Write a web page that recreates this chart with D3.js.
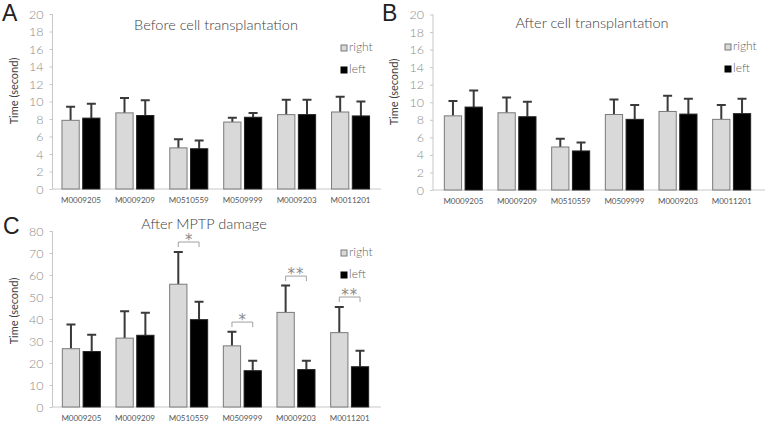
<!DOCTYPE html>
<html><head><meta charset="utf-8">
<script src="https://cdn.jsdelivr.net/npm/d3@7"></script>
<style>
html,body{margin:0;padding:0;background:#fff;}
svg{display:block;}
text{font-family:Lato,"Open Sans",sans-serif;}
</style></head>
<body>
<svg id="chart" width="770" height="423"></svg>
<script>
const categories = ["M0009205","M0009209","M0510559","M0509999","M0009203","M0011201"];
const seriesNames = ["right","left"];

const beforeRight = [7.85, 8.7, 4.7, 7.65, 8.5, 8.8];
const beforeRightErr = [1.55, 1.7, 1.0, 0.5, 1.7, 1.75];
const beforeLeft = [8.1, 8.4, 4.6, 8.2, 8.5, 8.35];
const beforeLeftErr = [1.65, 1.75, 0.95, 0.5, 1.7, 1.65];

const afterRight = [8.45, 8.8, 4.9, 8.6, 8.95, 8.05];
const afterRightErr = [1.7, 1.75, 0.95, 1.7, 1.8, 1.65];
const afterLeft = [9.45, 8.35, 4.45, 8.05, 8.65, 8.7];
const afterLeftErr = [1.9, 1.7, 0.95, 1.65, 1.75, 1.7];

const mptpRight = [26.5, 31.3, 55.8, 27.8, 43, 33.8];
const mptpRightErr = [11, 12.2, 14.7, 6.4, 12.2, 11.7];
const mptpLeft = [25.2, 32.6, 39.7, 16.5, 17, 18.3];
const mptpLeftErr = [7.6, 10.2, 8.1, 4.5, 4, 7.3];

const smallTicks = [0,2,4,6,8,10,12,14,16,18,20];
const largeTicks = [0,10,20,30,40,50,60,70,80];

const sigCategories = ["M0510559","M0509999","M0009203","M0011201"];
const sigLabels = ["*","*","**","**"];
const sigLevels = [75, 38.6, 59.5, 50];

const svg = d3.select("#chart");

function panel(cfg){
  const g = svg.append("g");
  const y = d3.scaleLinear().domain([0, cfg.ymax]).range([cfg.y0, cfg.y1]);
  const x0 = d3.scaleBand().domain(categories).range(cfg.xr).padding(0);
  const bw = x0.bandwidth();
  const x1 = d3.scaleBand().domain(seriesNames).range([bw/2-19.5, bw/2+19.5]).paddingInner(0.12);

  // y axis
  const ya = d3.axisLeft(y).tickValues(cfg.ticks).tickSize(3).tickPadding(6).tickFormat(d3.format("d"));
  const yg = g.append("g").attr("transform", `translate(${cfg.ax},0)`).call(ya);
  yg.select(".domain").attr("stroke","#c8c8c8").attr("d", `M-0,${cfg.y0}V${cfg.y1}`);
  yg.selectAll(".tick line").attr("stroke","#c8c8c8");
  yg.selectAll(".tick text").attr("fill","#8a8a8a").style("font-size","12.5px").style("font-weight","300");

  // x axis
  g.append("line").attr("x1", cfg.ax).attr("x2", cfg.xend).attr("y1", cfg.y0).attr("y2", cfg.y0)
    .attr("stroke","#c8c8c8");
  const xa = d3.axisBottom(x0).tickSize(0).tickPadding(8);
  const xg = g.append("g").attr("transform", `translate(0,${cfg.y0})`).call(xa);
  xg.select(".domain").remove();
  xg.selectAll(".tick text").attr("fill","#555").style("font-size","8px");

  const rows = categories.map((c,i)=>({c, vals:[
    {s:"right", v:cfg.right[i], e:cfg.rightErr[i]},
    {s:"left", v:cfg.left[i], e:cfg.leftErr[i]}]}));

  const grp = g.selectAll(".grp").data(rows).enter().append("g")
    .attr("transform", d=>`translate(${x0(d.c)},0)`);
  // error bars (behind bars)
  grp.selectAll(".err").data(d=>d.vals).enter().append("path")
    .attr("d", d=>{
      const cx = x1(d.s) + x1.bandwidth()/2;
      return `M${cx},${y(d.v)}V${y(d.v+d.e)}M${cx-4.5},${y(d.v+d.e)}H${cx+4.5}`;
    })
    .attr("stroke","#3a3a3a").attr("stroke-width",2).attr("fill","none");
  grp.selectAll(".bar").data(d=>d.vals).enter().append("rect")
    .attr("x", d=>x1(d.s)+0.5).attr("width", x1.bandwidth()-1)
    .attr("y", d=>y(d.v)).attr("height", d=>cfg.y0 - y(d.v))
    .attr("fill", d=>d.s==="right" ? "#d9d9d9" : "#000")
    .attr("stroke", d=>d.s==="right" ? "#7a7a7a" : "#222").attr("stroke-width",1);

  // title
  g.append("text").attr("x", cfg.tx).attr("y", cfg.ty).attr("text-anchor","middle")
    .attr("fill","#404040").style("font-size","14.5px").style("font-weight","300").text(cfg.title);
  // panel letter
  g.append("text").attr("x", cfg.lx).attr("y", cfg.ly).attr("fill","#222")
    .style("font-family","'Liberation Sans',sans-serif")
    .style("font-size","23px").text(cfg.letter);
  // y title
  g.append("text").attr("transform", `translate(${cfg.ytx},${cfg.yty}) rotate(-90)`)
    .attr("text-anchor","middle").attr("fill","#404040").style("font-size","11px")
    .text("Time (second)");
  // legend
  const lg = g.append("g");
  seriesNames.forEach((s,i)=>{
    const yy = cfg.legY + i*22;
    lg.append("rect").attr("x", cfg.legX).attr("y", yy-6).attr("width",6).attr("height",6)
      .attr("fill", s==="right" ? "#d9d9d9" : "#000").attr("stroke", s==="right" ? "#7a7a7a" : "#000");
    lg.append("text").attr("x", cfg.legX+8).attr("y", yy).attr("fill","#666")
      .style("font-size","12px").style("font-weight","300").text(s);
  });

  if (cfg.sig){
    sigCategories.forEach((c,i)=>{
      const xa_ = x0(c) + x1("right") + x1.bandwidth()/2;
      const xb_ = x0(c) + x1("left") + x1.bandwidth()/2;
      const yy = y(sigLevels[i]);
      g.append("path").attr("d", `M${xa_},${yy+5}V${yy}H${xb_}V${yy+5}`)
        .attr("stroke","#a0a0a0").attr("fill","none").attr("stroke-width",1);
      g.append("text").attr("x",(xa_+xb_)/2).attr("y", yy+3).attr("text-anchor","middle")
        .attr("fill","#8a8a8a").style("font-family","'DejaVu Sans',sans-serif").style("font-size","15px")
        .style("letter-spacing", sigLabels[i].length>1?"1px":"0")
        .text(sigLabels[i]);
    });
  }
}

panel({ymax:20, ticks:smallTicks, y0:189, y1:14, ax:52.5, xr:[54,377.5], xend:381,
  right:beforeRight, rightErr:beforeRightErr, left:beforeLeft, leftErr:beforeLeftErr,
  title:"Before cell transplantation", tx:216, ty:30, letter:"A", lx:2, ly:21,
  ytx:18, yty:91, legX:341, legY:51});
panel({ymax:20, ticks:smallTicks, y0:190, y1:14.5, ax:433, xr:[436.5,758.5], xend:765,
  right:afterRight, rightErr:afterRightErr, left:afterLeft, leftErr:afterLeftErr,
  title:"After cell transplantation", tx:592, ty:28, letter:"B", lx:382, ly:21,
  ytx:398, yty:92, legX:725, legY:50});
panel({ymax:80, ticks:largeTicks, y0:407, y1:231, ax:52.5, xr:[54.5,376.5], xend:381,
  right:mptpRight, rightErr:mptpRightErr, left:mptpLeft, leftErr:mptpLeftErr,
  title:"After MPTP damage", tx:204, ty:229, letter:"C", lx:3, ly:234,
  ytx:18, yty:311, legX:341, legY:256, sig:true});
</script>
</body></html>
